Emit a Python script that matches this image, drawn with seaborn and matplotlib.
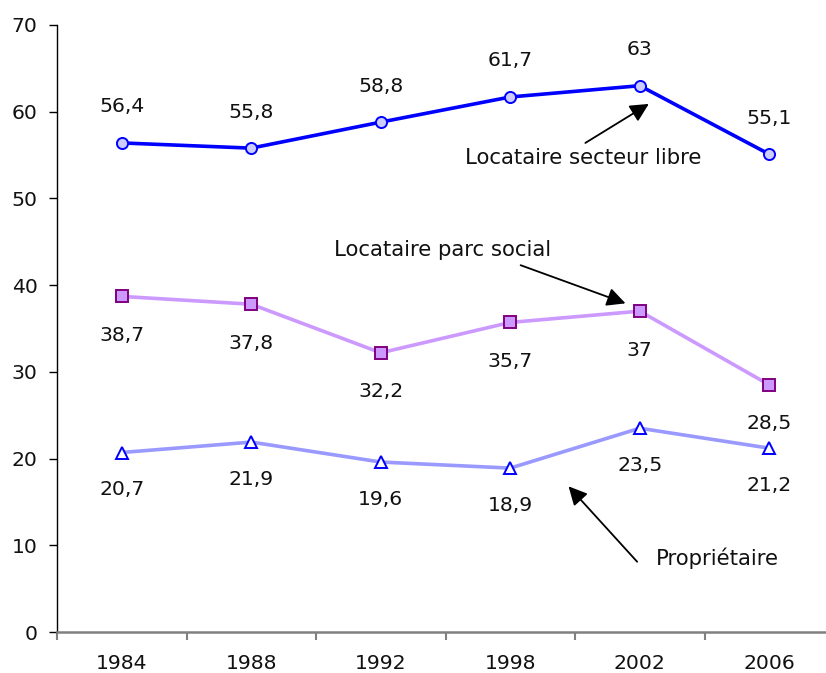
import numpy as np
import pandas as pd
import seaborn as sns
import matplotlib
matplotlib.use("Agg")
import matplotlib.pyplot as plt

# --- données ---
annees = ["1984", "1988", "1992", "1998", "2002", "2006"]
secteur_libre = [56.4, 55.8, 58.8, 61.7, 63.0, 55.1]
parc_social = [38.7, 37.8, 32.2, 35.7, 37.0, 28.5]
proprietaire = [20.7, 21.9, 19.6, 18.9, 23.5, 21.2]

df = pd.DataFrame({
    "pos": np.arange(len(annees)),
    "secteur_libre": secteur_libre,
    "parc_social": parc_social,
    "proprietaire": proprietaire,
})

sns.set_style("white")
plt.rcParams["font.family"] = ["DejaVu Sans"]
fs = 14.7

fig = plt.figure(figsize=(8.26, 6.73), dpi=100)
ax = fig.add_axes([57 / 826, 41 / 673, 777 / 826, 607 / 673])

# séries : (colonne, couleur ligne, marqueur, remplissage, bord, décalage étiquette en px)
series = [
    ("secteur_libre", "#0000FF", "o", "#CCCCFF", "#0000FF", 36),
    ("parc_social", "#CC99FF", "s", "#CC99FF", "#800080", -39),
    ("proprietaire", "#9999FF", "^", "#FFFFFF", "#0000FF", -37),
]

for col, c, mk, mfc, mec, off in series:
    sns.lineplot(
        data=df, x="pos", y=col, ax=ax,
        color=c, linewidth=2.6,
        marker=mk, markersize=8 if mk != "^" else 9,
        markerfacecolor=mfc, markeredgecolor=mec, markeredgewidth=1.4,
    )
    for x, v in zip(df["pos"], df[col]):
        ax.annotate(f"{v:g}".replace(".", ","), (x, v),
                    xytext=(0, off), textcoords="offset pixels",
                    ha="center", va="center", fontsize=fs, color="#111111")

# annotations avec flèches
arrow = dict(arrowstyle="-|>", color="black", lw=1.3, mutation_scale=28,
             shrinkA=0, shrinkB=0)
fa = 15.3
ax.annotate("", xy=(4.07, 60.9), xytext=(3.58, 56.4), arrowprops=arrow)
ax.text(3.56, 54.7, "Locataire secteur libre", ha="center", va="center", fontsize=fa, color="#111111")
ax.annotate("", xy=(3.89, 37.9), xytext=(3.08, 42.3), arrowprops=arrow)
ax.text(2.48, 44.1, "Locataire parc social", ha="center", va="center", fontsize=fa, color="#111111")
ax.annotate("", xy=(3.45, 16.8), xytext=(3.98, 8.1), arrowprops=arrow)
ax.text(4.6, 8.5, "Propriétaire", ha="center", va="center", fontsize=fa, color="#111111")

# axes
ax.set_xlim(-0.5, len(annees) - 0.5)
ax.set_ylim(0, 70)
ax.set_yticks(range(0, 71, 10))
ax.set_xticks(df["pos"])
ax.set_xticklabels(annees)
ax.set_xticks(np.arange(-0.5, len(annees), 1), minor=True)
ax.set_xlabel("")
ax.set_ylabel("")

ax.tick_params(axis="y", left=True, length=6, width=1, color="black",
               pad=8, labelsize=fs, labelcolor="#111111")
ax.tick_params(axis="x", which="major", bottom=True, length=0, pad=16,
               labelsize=fs, labelcolor="#111111")
ax.tick_params(axis="x", which="minor", bottom=True, length=6, width=1.5,
               color="#808080")

for s in ["top", "right"]:
    ax.spines[s].set_visible(False)
ax.spines["left"].set_color("black")
ax.spines["left"].set_linewidth(1)
ax.spines["bottom"].set_color("#808080")
ax.spines["bottom"].set_linewidth(1.8)

fig.savefig("out.png", dpi=100)
